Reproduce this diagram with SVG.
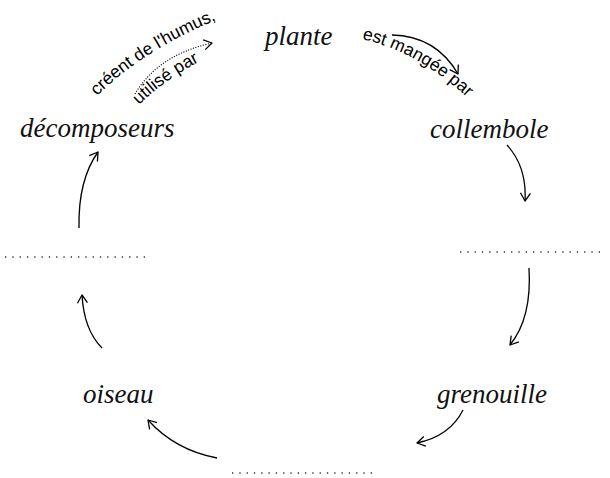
<svg xmlns="http://www.w3.org/2000/svg" width="610" height="478" viewBox="0 0 610 478">
<style>
.node{font-family:"Liberation Serif","DejaVu Serif",serif;font-style:italic;font-size:27px;fill:#111}
.lab{font-family:"Liberation Sans",Arial,sans-serif;font-size:17.5px;fill:#000}
.arr{fill:none;stroke:#000;stroke-width:1.3;marker-end:url(#ah)}
.dots{fill:none;stroke:#333;stroke-width:1.3;stroke-dasharray:1.3 6}
</style>
<defs>
<marker id="ah" viewBox="-10 -7 12 14" refX="0" refY="0" markerWidth="12" markerHeight="14" markerUnits="userSpaceOnUse" orient="auto">
<path d="M -8,-5 L 0,0 L -8,5" fill="none" stroke="#000" stroke-width="1.3" stroke-linejoin="round"/>
</marker>
<path id="pRight" d="M 362,39 Q 420,52 472,102"/>
<path id="pLeftOut" d="M 97,96 Q 145,48 228,15"/>
<path id="pLeftIn" d="M 139,105 Q 168,76 216,53"/>
</defs>
<g id="plante"><text class="node" x="265" y="45" font-size="28">plante</text></g>
<g id="collembole"><text class="node" x="430" y="138">collembole</text></g>
<g id="blank-right"><line class="dots" x1="460" y1="252" x2="602" y2="252"/></g>
<g id="grenouille"><text class="node" x="437" y="403">grenouille</text></g>
<g id="blank-bottom"><line class="dots" x1="232" y1="473" x2="374" y2="473"/></g>
<g id="oiseau"><text class="node" x="83" y="403">oiseau</text></g>
<g id="blank-left"><line class="dots" x1="5" y1="257" x2="147" y2="257"/></g>
<g id="decomposeurs"><text class="node" x="20" y="137">décomposeurs</text></g>
<g id="connectors">
<path class="arr" d="M 392,35 Q 436,36 458,74"/>
<path class="arr" d="M 507,145 Q 527,167 525,201"/>
<path class="arr" d="M 529,268 Q 532,318 510,345"/>
<path class="arr" d="M 463,410 Q 450,436 417,443"/>
<path class="arr" d="M 217,458 Q 175,450 148,420"/>
<path class="arr" d="M 102,348 Q 84,330 82,295"/>
<path class="arr" d="M 79,228 Q 78,180 98,152"/>
<path fill="none" stroke="#000" stroke-width="1.1" stroke-dasharray="1.1 1.5" d="M 135,94 Q 158,55 212,43" marker-end="url(#ah)"/>
<text class="lab"><textPath href="#pRight">est mangée par</textPath></text>
<text class="lab"><textPath href="#pLeftOut">créent de l'humus,</textPath></text>
<text class="lab"><textPath href="#pLeftIn">utilisé par</textPath></text>
</g>
</svg>
